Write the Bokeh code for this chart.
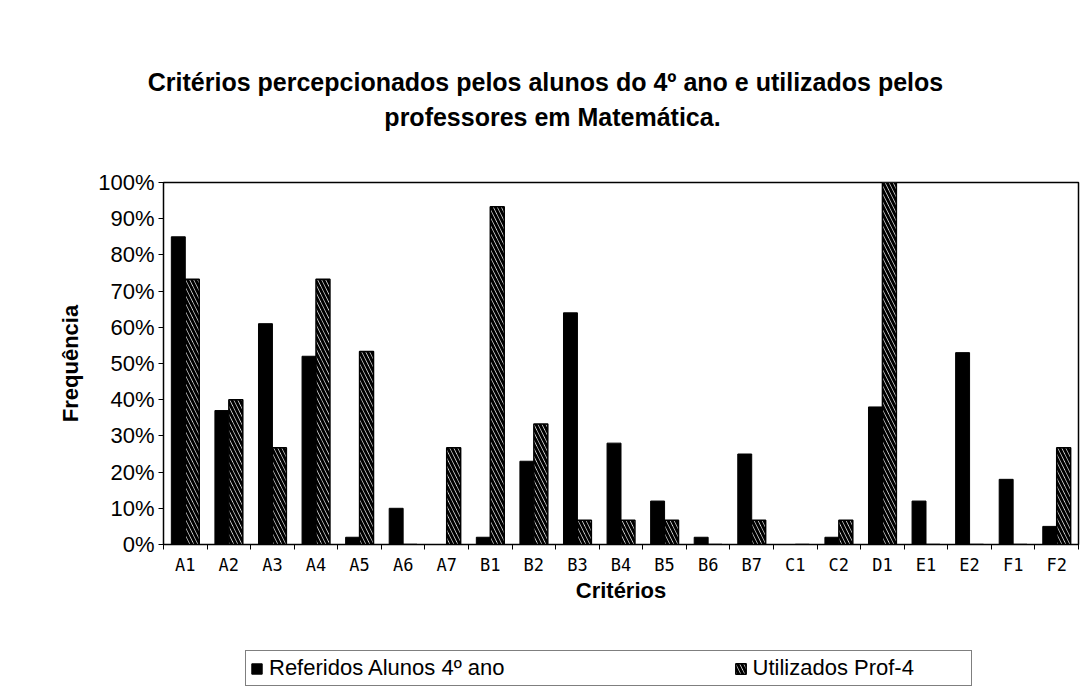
from bokeh.plotting import figure
from bokeh.layouts import column
from bokeh.models import (ColumnDataSource, Range1d, FixedTicker, NumeralTickFormatter,
                          Legend, LegendItem, Label)
from bokeh.embed import file_html
from bokeh.resources import INLINE

categories = ["A1", "A2", "A3", "A4", "A5", "A6", "A7", "B1", "B2", "B3", "B4",
              "B5", "B6", "B7", "C1", "C2", "D1", "E1", "E2", "F1", "F2"]
referidos_alunos = [0.85, 0.37, 0.61, 0.52, 0.02, 0.10, 0.0, 0.02, 0.23, 0.64, 0.28,
                    0.12, 0.02, 0.25, 0.0, 0.02, 0.38, 0.12, 0.53, 0.18, 0.05]
utilizados_prof = [0.733, 0.40, 0.267, 0.733, 0.533, 0.0, 0.267, 0.933, 0.333, 0.067, 0.067,
                   0.067, 0.0, 0.067, 0.0, 0.067, 1.0, 0.0, 0.0, 0.0, 0.267]
y_ticks = [i / 10 for i in range(11)]
title_lines = ["Critérios percepcionados pelos alunos do 4º ano e utilizados pelos",
               "professores em Matemática."]
series_names = ["Referidos Alunos 4º ano", "Utilizados Prof-4"]

W = 1084
black_style = dict(fill_color="black", line_color="black")
hatch_style = dict(fill_color="white", line_color="black", line_width=1.5,
                   hatch_pattern="\\", hatch_color="black", hatch_scale=8, hatch_weight=3)

n = len(categories)
centers = [i + 0.5 for i in range(n)]
bw = 0.32
src = ColumnDataSource(dict(
    xa=[c - bw / 2 for c in centers],
    xb=[c + bw / 2 for c in centers],
    a=referidos_alunos,
    b=utilizados_prof,
))

# ---- title block ----
tf = figure(width=W, height=150, output_backend="svg", toolbar_location=None,
            x_axis_type=None, y_axis_type=None, x_range=Range1d(0, W), y_range=Range1d(0, 150),
            min_border=0, outline_line_color=None)
tf.frame_align = False
tf.grid.visible = False
for txt, tx, ty in zip(title_lines, [545, 552], [69, 34]):
    tf.add_layout(Label(x=tx, y=ty, text=txt, text_align="center", text_baseline="middle",
                        text_font="Liberation Sans", text_font_size="25px",
                        text_font_style="bold", text_color="black"))

# ---- main chart ----
p = figure(frame_width=915, frame_height=362, output_backend="svg", toolbar_location=None,
           x_range=Range1d(0, n), y_range=Range1d(0, 1.0),
           min_border_left=163, min_border_right=6, min_border_top=32, min_border_bottom=90)
p.frame_align = False
p.title.visible = False

p.vbar(x="xa", top="a", width=bw, source=src, **black_style)
p.vbar(x="xb", top="b", width=bw, source=src, **hatch_style)

p.xgrid.visible = False
p.ygrid.visible = False
p.outline_line_color = "black"
p.outline_line_width = 1.5

p.xaxis.ticker = FixedTicker(ticks=centers, minor_ticks=list(range(n + 1)))
p.xaxis.major_label_overrides = {c: cat for c, cat in zip(centers, categories)}
p.xaxis.major_tick_line_color = None
p.xaxis.minor_tick_in = 0
p.xaxis.minor_tick_out = 5
p.xaxis.minor_tick_line_color = "black"
p.xaxis.major_label_text_font = "DejaVu Sans Mono"
p.xaxis.major_label_text_font_size = "17px"
p.xaxis.major_label_standoff = 4
p.xaxis.axis_label = "Critérios"
p.xaxis.axis_label_text_font = "Liberation Sans"
p.xaxis.axis_label_text_font_size = "22px"
p.xaxis.axis_label_text_font_style = "bold"
p.xaxis.axis_label_standoff = 0

p.yaxis.ticker = FixedTicker(ticks=y_ticks)
p.yaxis.formatter = NumeralTickFormatter(format="0%")
p.yaxis.major_label_text_font = "Liberation Sans"
p.yaxis.major_label_text_font_size = "22px"
p.yaxis.major_label_standoff = 4
p.yaxis.major_tick_in = 0
p.yaxis.major_tick_out = 5
p.yaxis.minor_tick_line_color = None
p.yaxis.axis_label = "Frequência"
p.yaxis.axis_label_text_font = "Liberation Sans"
p.yaxis.axis_label_text_font_size = "22px"
p.yaxis.axis_label_text_font_style = "bold"
p.yaxis.axis_label_standoff = 12
for ax in (p.xaxis, p.yaxis):
    ax.axis_line_color = "black"
    ax.major_label_text_color = "black"
    ax.axis_label_text_color = "black"

# ---- legend block ----
lf = figure(width=W, height=55, output_backend="svg", toolbar_location=None,
            x_axis_type=None, y_axis_type=None, x_range=Range1d(0, 1), y_range=Range1d(0, 1),
            min_border=0, outline_line_color=None)
lf.frame_align = False
lf.grid.visible = False
g1 = lf.vbar(x="xa", top="a", width=bw, source=src, visible=False, **black_style)
g2 = lf.vbar(x="xb", top="b", width=bw, source=src, visible=False, **hatch_style)
legend = Legend(items=[LegendItem(label=series_names[0], renderers=[g1], index=0),
                       LegendItem(label=series_names[1], renderers=[g2], index=0)],
                orientation="horizontal", location=(245, 3),
                label_text_font="Liberation Sans", label_text_font_size="22px",
                label_text_color="black", label_standoff=6, label_width=214,
                glyph_width=13, glyph_height=13, spacing=229,
                padding=4, margin=0, inactive_fill_alpha=0,
                border_line_color="black", border_line_width=1.5)
lf.add_layout(legend)

layout = column(tf, p, lf, spacing=0)
open("out.html", "w").write(file_html(layout, INLINE))
